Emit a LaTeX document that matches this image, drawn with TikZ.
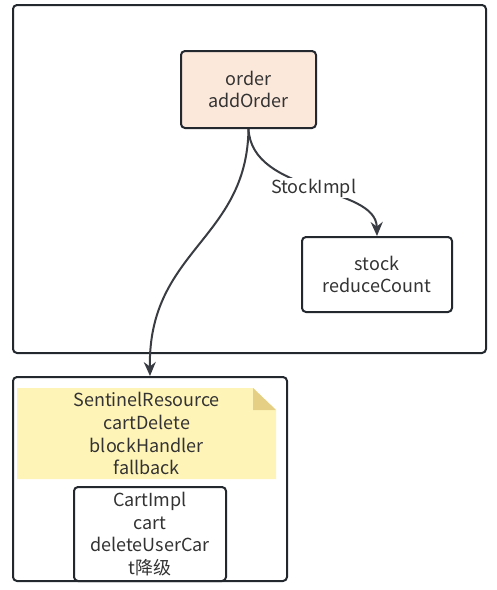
\documentclass[tikz,border=0pt]{standalone}
\usepackage{fontspec}
\setmainfont{Noto Sans CJK SC}
\usetikzlibrary{arrows.meta}
\definecolor{ink}{HTML}{23272E}
\definecolor{txt}{HTML}{333333}
\definecolor{peach}{HTML}{FCE8DA}
\definecolor{notey}{HTML}{FFF4B8}
\definecolor{fold}{HTML}{E5CF85}
\tikzset{
  box/.style={draw=ink, line width=2pt, rounded corners=4pt, fill=white},
  lbl/.style={text=txt, font=\fontsize{18}{22.7}\selectfont, align=center},
  arr/.style={draw=ink!90, line width=2pt, -{Stealth[length=14pt,width=12pt]}}
}
\begin{document}
\begin{tikzpicture}[x=1pt,y=1pt]
\useasboundingbox (0,0) rectangle (497,-590);
% outer top box
\node[box, minimum width=473pt, minimum height=348pt, inner sep=0pt, anchor=north west] (outer) at (12,-4) {};
% order
\node[box, fill=peach, minimum width=135pt, minimum height=77pt, inner sep=0pt, anchor=north west] (orderbox) at (180,-50) {};
\node[lbl] (order) at (orderbox.center) {order\\addOrder};
% stock
\node[box, minimum width=150pt, minimum height=75pt, inner sep=0pt, anchor=north west] (stockbox) at (301,-236) {};
\node[lbl] (stock) at (stockbox.center) {stock\\reduceCount};
% bottom box
\node[box, minimum width=274pt, minimum height=204pt, inner sep=0pt, anchor=north west] (bottom) at (12,-376) {};
% note
\fill[notey] (17,-388) -- (253,-388) -- (276,-410) -- (276,-479) -- (17,-479) -- cycle;
\fill[fold] (253,-388) -- (276,-410) -- (253,-410) -- cycle;
\node[lbl, minimum width=259pt, minimum height=91pt, inner sep=0pt, anchor=north west] (note) at (17,-388) {SentinelResource\\cartDelete\\blockHandler\\fallback};
% cart
\node[box, minimum width=152pt, minimum height=94pt, inner sep=0pt, anchor=north west] (cartbox) at (73,-486) {};
\node[lbl] (cart) at (cartbox.center) {CartImpl\\cart\\deleteUserCar\\t降级};
% connectors
\draw[arr] (orderbox.south) .. controls (247,-240) and (148,-250) .. (bottom.north);
\draw[arr] (orderbox.south) .. controls (252,-195) and (376,-185) .. node[pos=0.5, fill=white, lbl, inner sep=1pt] (slabel) {StockImpl} (stockbox.north);
\end{tikzpicture}
\end{document}
